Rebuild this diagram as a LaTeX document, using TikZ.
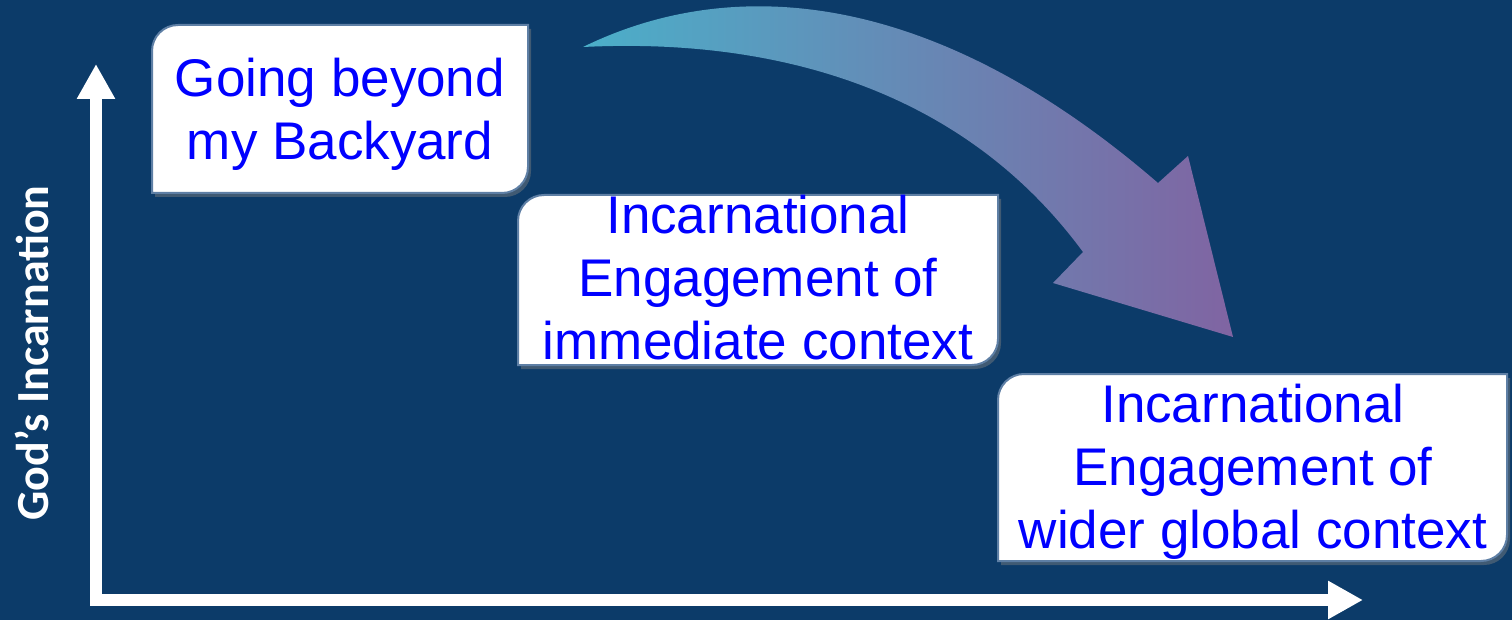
\documentclass[tikz,border=0pt]{standalone}
\usepackage{fontspec}
\setmainfont{Liberation Sans}
\newfontfamily\calibri{Carlito}
\usepackage{tikz}
\usetikzlibrary{arrows.meta,shadows}
\definecolor{slide}{HTML}{0C3B69}
\definecolor{boxedge}{HTML}{5E7FA5}
\definecolor{boxtext}{HTML}{0000FF}
\definecolor{aqua}{HTML}{4BAFC9}
\definecolor{violet}{HTML}{8064A2}
\tikzset{
  axis/.style={draw=white, line width=12pt,
    {Triangle[length=35pt,width=36pt]}-{Triangle[length=35pt,width=36pt]}},
  axislab/.style={text=white, font=\calibri\bfseries\fontsize{46}{54}\selectfont},
  boxshape/.style={fill=white, draw=boxedge, line width=2pt,
    drop shadow={shadow xshift=3pt, shadow yshift=-4pt, opacity=0.45}},
  boxlab/.style={text=boxtext, align=center, font=\fontsize{53}{63}\selectfont},
}
\begin{document}
\begin{tikzpicture}[x=1pt, y=1pt]
  % slide background
  \fill[slide] (0,0) rectangle (1512,-620);
  \useasboundingbox (0,0) rectangle (1512,-620);

  % axes
  \coordinate (ytop) at (96,-64);
  \coordinate (xend) at (1363,-600);
  \draw[axis] (ytop) |- (xend);
  \node[axislab, rotate=90] (ylab) at (32,-353) {God’s Incarnation};

  % curved arrow
  \shade[left color=aqua, right color=violet]
    (583,-47) .. controls (730,25) and (930,14) .. (1158,-183)
    -- (1188,-156) -- (1233,-337) -- (1053,-283) -- (1083,-252)
    .. controls (958,-82) and (763,-38) .. (583,-47) -- cycle;

  % boxes (round diagonal corners)
  \filldraw[boxshape] (152,-193) -- (152,-51) arc[start angle=180, end angle=90, radius=26pt]
    -- (528,-25) -- (528,-167) arc[start angle=0, end angle=-90, radius=26pt] -- cycle;
  \filldraw[boxshape] (518,-365) -- (518,-221) arc[start angle=180, end angle=90, radius=26pt]
    -- (998,-195) -- (998,-339) arc[start angle=0, end angle=-90, radius=26pt] -- cycle;
  \filldraw[boxshape] (998,-561) -- (998,-400) arc[start angle=180, end angle=90, radius=26pt]
    -- (1507,-374) -- (1507,-535) arc[start angle=0, end angle=-90, radius=26pt] -- cycle;

  \node[boxlab] (backyard) at (340,-114) {Going beyond\\my Backyard};
  \node[boxlab] (immediate) at (758,-278) {Incarnational\\Engagement of\\immediate context};
  \node[boxlab] (global) at (1253,-472) {Incarnational\\Engagement of\\wider global context};
\end{tikzpicture}
\end{document}
